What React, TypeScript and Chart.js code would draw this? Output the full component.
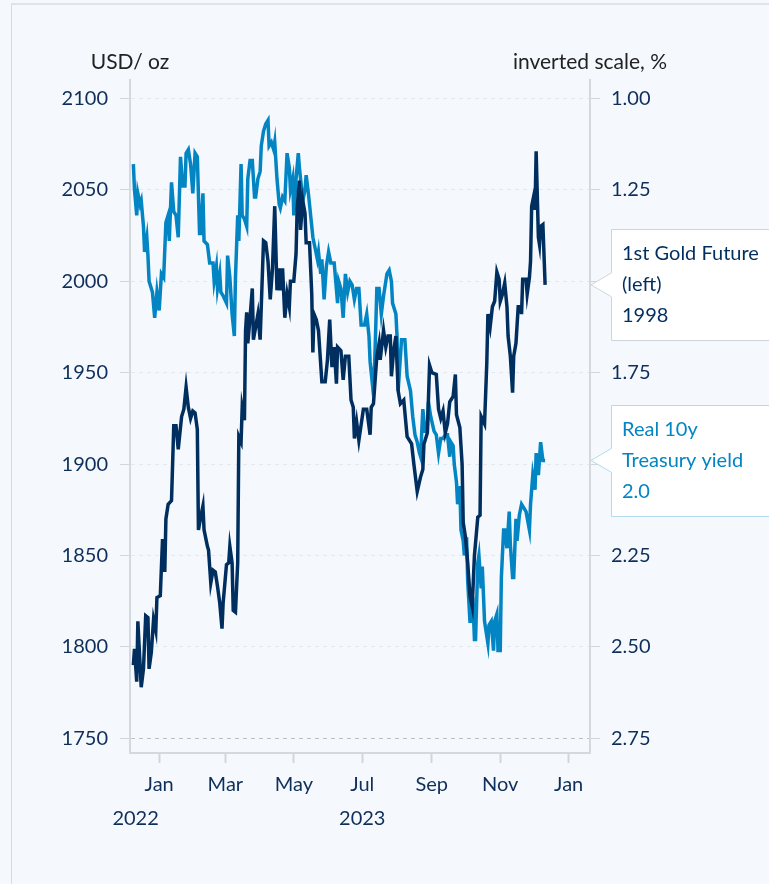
import React, { useEffect, useRef } from 'react';
import { Chart, registerables } from 'chart.js';

Chart.register(...registerables);

// ---------- data ----------
const goldDates = [
  '2022-12-09','2022-12-10','2022-12-12','2022-12-13','2022-12-16','2022-12-18','2022-12-20','2022-12-22','2022-12-23','2022-12-25',
  '2022-12-27','2022-12-29','2022-12-30','2023-01-02','2023-01-04','2023-01-06','2023-01-07','2023-01-09','2023-01-12','2023-01-14',
  '2023-01-16','2023-01-18','2023-01-21','2023-01-23','2023-01-25','2023-01-27','2023-01-29','2023-01-31','2023-02-02','2023-02-04',
  '2023-02-05','2023-02-07','2023-02-09','2023-02-10','2023-02-13','2023-02-14','2023-02-16','2023-02-18','2023-02-20','2023-02-22',
  '2023-02-24','2023-02-26','2023-02-27','2023-03-02','2023-03-04','2023-03-05','2023-03-07','2023-03-08','2023-03-10','2023-03-12',
  '2023-03-13','2023-03-15','2023-03-16','2023-03-18','2023-03-19','2023-03-20','2023-03-21','2023-03-23','2023-03-25','2023-03-26',
  '2023-03-30','2023-04-01','2023-04-04','2023-04-06','2023-04-08','2023-04-10','2023-04-12','2023-04-14','2023-04-16','2023-04-18',
  '2023-04-19','2023-04-21','2023-04-23','2023-04-25','2023-04-27','2023-04-28','2023-05-01','2023-05-03','2023-05-04','2023-05-06',
  '2023-05-07','2023-05-09','2023-05-11','2023-05-12','2023-05-15','2023-05-17','2023-05-18','2023-05-19','2023-05-21','2023-05-23',
  '2023-05-26','2023-05-29','2023-05-31','2023-06-02','2023-06-04','2023-06-06','2023-06-08','2023-06-09','2023-06-12','2023-06-14',
  '2023-06-16','2023-06-19','2023-06-21','2023-06-23','2023-06-24','2023-06-26','2023-06-28','2023-07-02','2023-07-05','2023-07-08',
  '2023-07-09','2023-07-11','2023-07-14','2023-07-16','2023-07-17','2023-07-20','2023-07-22','2023-07-24','2023-07-26','2023-07-27',
  '2023-07-29','2023-07-31','2023-08-02','2023-08-04','2023-08-07','2023-08-10','2023-08-14','2023-08-16','2023-08-19','2023-08-22',
  '2023-08-24','2023-08-25','2023-08-28','2023-08-30','2023-09-01','2023-09-05','2023-09-07','2023-09-09','2023-09-11','2023-09-13',
  '2023-09-15','2023-09-17','2023-09-20','2023-09-22','2023-09-23','2023-09-26','2023-09-28','2023-09-29','2023-10-01','2023-10-03',
  '2023-10-05','2023-10-07','2023-10-09','2023-10-11','2023-10-12','2023-10-14','2023-10-15','2023-10-18','2023-10-20','2023-10-21',
  '2023-10-23','2023-10-25','2023-10-27','2023-10-29','2023-10-31','2023-11-01','2023-11-03','2023-11-05','2023-11-07','2023-11-08',
  '2023-11-10','2023-11-12','2023-11-13','2023-11-15','2023-11-17','2023-11-19','2023-11-20','2023-11-21','2023-11-24','2023-11-25',
  '2023-11-27','2023-11-28','2023-11-29','2023-12-01','2023-12-02','2023-12-03','2023-12-05','2023-12-06','2023-12-07','2023-12-09',
  '2023-12-11'
];
const goldValues = [
  1790,1799,1781,1814,1778,1788,1817,1816,1788,1797,
  1815,1809,1827,1828,1859,1841,1870,1878,1880,1921,
  1921,1908,1926,1930,1942,1931,1925,1929,1928,1919,
  1864,1871,1877,1864,1855,1853,1835,1842,1841,1833,
  1824,1810,1824,1845,1846,1855,1846,1820,1819,1846,
  1915,1912,1931,1924,1973,1983,1966,1980,1996,1968,
  1982,1968,2022,2021,2011,1990,2007,2041,1995,2007,
  1995,2007,1980,1993,1986,2000,2000,2015,2040,2055,
  2028,2044,2037,2021,2021,1993,1961,1982,1979,1973,
  1945,1945,1957,1979,1953,1964,1944,1964,1962,1946,
  1959,1959,1935,1931,1914,1923,1913,1930,1930,1916,
  1931,1933,1959,1966,1957,1973,1964,1970,1970,1948,
  1962,1970,1940,1933,1935,1915,1911,1900,1885,1893,
  1897,1911,1917,1954,1950,1949,1930,1925,1929,1917,
  1922,1934,1937,1949,1927,1920,1900,1868,1860,1846,
  1828,1822,1850,1864,1871,1872,1926,1922,1955,1982,
  1975,1986,1989,2005,2001,1989,1993,1999,1986,1970,
  1959,1939,1959,1966,1986,1986,1982,2001,2001,1993,
  2002,2011,2041,2047,2039,2071,2024,2020,2030,2031,
  1998
];

const yieldDates = [
  '2022-12-09','2022-12-10','2022-12-12','2022-12-13','2022-12-15','2022-12-16','2022-12-18','2022-12-19','2022-12-21','2022-12-22',
  '2022-12-23','2022-12-25','2022-12-26','2022-12-28','2022-12-30','2023-01-01','2023-01-03','2023-01-05','2023-01-07','2023-01-09',
  '2023-01-10','2023-01-12','2023-01-14','2023-01-16','2023-01-18','2023-01-20','2023-01-22','2023-01-24','2023-01-25','2023-01-27',
  '2023-01-29','2023-01-31','2023-02-02','2023-02-04','2023-02-06','2023-02-07','2023-02-09','2023-02-10','2023-02-13','2023-02-15',
  '2023-02-18','2023-02-19','2023-02-21','2023-02-22','2023-02-24','2023-02-25','2023-02-27','2023-03-02','2023-03-03','2023-03-05',
  '2023-03-07','2023-03-09','2023-03-10','2023-03-12','2023-03-13','2023-03-15','2023-03-16','2023-03-18','2023-03-20','2023-03-21',
  '2023-03-23','2023-03-25','2023-03-27','2023-03-28','2023-03-30','2023-04-01','2023-04-02','2023-04-04','2023-04-06','2023-04-08',
  '2023-04-09','2023-04-11','2023-04-13','2023-04-14','2023-04-16','2023-04-18','2023-04-19','2023-04-21','2023-04-23','2023-04-25',
  '2023-04-27','2023-04-28','2023-04-30','2023-05-01','2023-05-03','2023-05-05','2023-05-06','2023-05-09','2023-05-11','2023-05-12',
  '2023-05-14','2023-05-16','2023-05-18','2023-05-20','2023-05-22','2023-05-23','2023-05-25','2023-05-26','2023-05-28','2023-05-30',
  '2023-06-01','2023-06-03','2023-06-06','2023-06-09','2023-06-10','2023-06-12','2023-06-14','2023-06-16','2023-06-18','2023-06-20',
  '2023-06-22','2023-06-24','2023-06-26','2023-06-28','2023-06-30','2023-07-03','2023-07-05','2023-07-07','2023-07-08','2023-07-10',
  '2023-07-12','2023-07-13','2023-07-14','2023-07-16','2023-07-18','2023-07-20','2023-07-21','2023-07-23','2023-07-25','2023-07-27',
  '2023-07-28','2023-07-31','2023-08-01','2023-08-02','2023-08-05','2023-08-08','2023-08-10','2023-08-13','2023-08-15','2023-08-17',
  '2023-08-19','2023-08-21','2023-08-22','2023-08-24','2023-08-26','2023-08-28','2023-08-29','2023-08-31','2023-09-03','2023-09-05',
  '2023-09-07','2023-09-09','2023-09-11','2023-09-13','2023-09-15','2023-09-17','2023-09-18','2023-09-20','2023-09-21','2023-09-23',
  '2023-09-24','2023-09-26','2023-09-27','2023-09-29','2023-09-30','2023-10-02','2023-10-03','2023-10-05','2023-10-06','2023-10-08',
  '2023-10-09','2023-10-10','2023-10-12','2023-10-13','2023-10-15','2023-10-16','2023-10-18','2023-10-21','2023-10-22','2023-10-24',
  '2023-10-26','2023-10-27','2023-10-29','2023-10-30','2023-11-01','2023-11-02','2023-11-04','2023-11-05','2023-11-07','2023-11-09',
  '2023-11-10','2023-11-12','2023-11-13','2023-11-15','2023-11-16','2023-11-18','2023-11-20','2023-11-22','2023-11-24','2023-11-27',
  '2023-11-28','2023-11-30','2023-12-02','2023-12-03','2023-12-05','2023-12-07','2023-12-09','2023-12-11'
];
const yieldValues = [
  1.18,1.25,1.32,1.26,1.29,1.28,1.35,1.42,1.38,1.43,
  1.50,1.52,1.53,1.60,1.53,1.58,1.48,1.49,1.34,1.32,
  1.39,1.23,1.31,1.32,1.38,1.16,1.24,1.24,1.15,1.14,
  1.18,1.26,1.15,1.16,1.37,1.37,1.26,1.39,1.40,1.45,
  1.45,1.50,1.46,1.52,1.48,1.53,1.54,1.56,1.43,1.49,
  1.59,1.65,1.49,1.32,1.39,1.18,1.32,1.33,1.35,1.22,
  1.17,1.17,1.27,1.27,1.22,1.20,1.13,1.09,1.07,1.06,
  1.13,1.12,1.14,1.12,1.22,1.29,1.30,1.27,1.28,1.15,
  1.19,1.25,1.22,1.32,1.22,1.15,1.19,1.28,1.25,1.21,
  1.26,1.32,1.38,1.41,1.44,1.42,1.48,1.44,1.55,1.46,
  1.42,1.45,1.45,1.56,1.50,1.52,1.60,1.48,1.53,1.50,
  1.51,1.55,1.52,1.52,1.62,1.62,1.59,1.65,1.72,1.78,
  1.73,1.63,1.52,1.52,1.59,1.54,1.52,1.48,1.47,1.50,
  1.56,1.59,1.65,1.80,1.66,1.66,1.76,1.80,1.87,1.92,
  1.94,1.97,1.98,1.85,1.91,1.91,1.83,1.87,1.91,1.92,
  1.97,1.93,1.93,1.92,1.92,1.98,1.94,1.95,2.00,2.05,
  2.11,2.06,2.18,2.21,2.25,2.20,2.32,2.43,2.43,2.40,
  2.48,2.48,2.27,2.25,2.34,2.28,2.43,2.49,2.44,2.43,
  2.51,2.43,2.41,2.51,2.51,2.31,2.18,2.18,2.23,2.13,
  2.22,2.31,2.31,2.15,2.21,2.14,2.11,2.12,2.13,2.18,
  2.11,2.03,2.07,1.97,2.03,1.94,1.99,1.99
];

const leftTicks = [1750, 1800, 1850, 1900, 1950, 2000, 2050, 2100];
const rightTicks = [1.0, 1.25, 1.5, 1.75, 2.0, 2.25, 2.5, 2.75];
const monthTickDates = ['2023-01-01','2023-03-01','2023-05-01','2023-07-01','2023-09-01','2023-11-01','2024-01-01'];
const monthTickLabels = ['Jan','Mar','May','Jul','Sep','Nov','Jan'];
const yearLabels = ['2022', '2023'];
const yearLabelDates = ['2022-12-11', '2023-07-01'];

const leftTitle = 'USD/ oz';
const rightTitle = 'inverted scale, %';
const goldLabel = ['1st Gold Future', '(left)'];
const yieldLabel = ['Real 10y', 'Treasury yield'];

// ---------- helpers ----------
const BASE = Date.UTC(2023, 0, 1);
const toDay = (s: string) => {
  const [y, m, d] = s.split('-').map(Number);
  return (Date.UTC(y, m - 1, d) - BASE) / 86400000;
};

const NAVY = '#002f5f';
const BLUE = '#0385c3';
const TICK = '#0f2f5a';
const FONT = 'Lato, "Noto Sans", sans-serif';
const FS = 20;

export default function App() {
  const ref = useRef<HTMLCanvasElement | null>(null);

  useEffect(() => {
    if (!ref.current) return;

    const overlay = {
      id: 'overlay',
      afterDraw(chart: any) {
        const { ctx, scales } = chart;
        const xs = scales.x, yl = scales.y, yr = scales.y1;
        ctx.save();
        ctx.textBaseline = 'middle';
        // axis titles
        ctx.font = `21px ${FONT}`;
        ctx.fillStyle = '#222222';
        ctx.textAlign = 'center';
        ctx.fillText(leftTitle, yl.right, 62);
        ctx.fillText(rightTitle, yr.left, 62);
        // year labels
        ctx.font = `${FS}px ${FONT}`;
        ctx.fillStyle = TICK;
        yearLabels.forEach((t, i) => {
          ctx.fillText(t, xs.getPixelForValue(toDay(yearLabelDates[i])), 819);
        });
        // end-value boxes
        const drawBox = (cy: number, lines: string[], color: string, border: string) => {
          const bx = yr.left + 21, tip = yr.left + 1;
          const h = 111, top = Math.round(cy - h / 2) + 0.5, bot = top + h;
          ctx.beginPath();
          ctx.moveTo(bx + 0.5, top);
          ctx.lineTo(820, top);
          ctx.lineTo(820, bot);
          ctx.lineTo(bx + 0.5, bot);
          ctx.lineTo(bx + 0.5, cy + 12);
          ctx.lineTo(tip, cy);
          ctx.lineTo(bx + 0.5, cy - 12);
          ctx.closePath();
          ctx.fillStyle = '#ffffff';
          ctx.fill();
          ctx.strokeStyle = border;
          ctx.lineWidth = 1;
          ctx.stroke();
          ctx.fillStyle = color;
          ctx.textAlign = 'left';
          lines.forEach((l, i) => ctx.fillText(l, bx + 11, cy + (i - 1) * 31));
        };
        const gLast = goldValues[goldValues.length - 1];
        const yLast = yieldValues[yieldValues.length - 1];
        drawBox(yl.getPixelForValue(gLast), [...goldLabel, String(Math.round(gLast))], NAVY, '#cdd4db');
        drawBox(yr.getPixelForValue(yLast), [...yieldLabel, yLast.toFixed(1)], BLUE, '#b2dbef');
        ctx.restore();
      },
    };

    const tickFont = { family: FONT, size: FS };

    const chart = new Chart(ref.current, {
      type: 'line',
      data: {
        datasets: [
          {
            label: 'Gold',
            data: goldDates.map((d, i) => ({ x: toDay(d), y: goldValues[i] })),
            borderColor: NAVY,
            borderWidth: 3.5,
            pointRadius: 0,
            tension: 0,
            yAxisID: 'y',
          },
          {
            label: 'Real 10y',
            data: yieldDates.map((d, i) => ({ x: toDay(d), y: yieldValues[i] })),
            borderColor: BLUE,
            borderWidth: 3.5,
            pointRadius: 0,
            tension: 0,
            yAxisID: 'y1',
          },
        ],
      },
      options: {
        responsive: false,
        animation: false,
        devicePixelRatio: 1,
        layout: { padding: { top: 80, left: 0, right: 0, bottom: 0 } },
        plugins: { legend: { display: false }, tooltip: { enabled: false } },
        scales: {
          x: {
            type: 'linear',
            min: -26,
            max: 384,
            afterBuildTicks: (s: any) => {
              s.ticks = monthTickDates.map((d) => ({ value: toDay(d) }));
            },
            afterFit: (s: any) => { s.height = 131; },
            grid: { drawOnChartArea: false, drawTicks: true, tickLength: 10, tickColor: '#cfd6dd', tickWidth: 2 },
            border: { color: '#d3d9df', width: 2 },
            ticks: {
              autoSkip: false,
              maxRotation: 0,
              padding: 10,
              color: TICK,
              font: tickFont,
              callback: (_v: any, i: number) => monthTickLabels[i],
            },
          },
          y: {
            position: 'left',
            min: 1742,
            max: 2110,
            afterBuildTicks: (s: any) => {
              s.ticks = leftTicks.map((v) => ({ value: v }));
            },
            afterFit: (s: any) => { s.width = 130; },
            grid: {
              color: (c: any) => (c.tick && c.tick.value === leftTicks[0] ? '#b9c1c9' : '#e4e9ee'),
              lineWidth: 1,
              drawTicks: true,
              tickLength: 10,
              tickColor: '#cfd6dd',
              tickWidth: 1,
            },
            border: { color: '#d3d9df', width: 2, dash: [4, 4] },
            ticks: { padding: 12, color: TICK, font: tickFont, callback: (v: any) => String(v) },
          },
          y1: {
            position: 'right',
            reverse: true,
            min: 0.95,
            max: 2.79,
            afterBuildTicks: (s: any) => {
              s.ticks = rightTicks.map((v) => ({ value: v }));
            },
            afterFit: (s: any) => { s.width = 179; },
            grid: { drawOnChartArea: false, drawTicks: true, tickLength: 10, tickColor: '#cfd6dd', tickWidth: 1 },
            border: { color: '#d3d9df', width: 2 },
            ticks: { padding: 11, color: TICK, font: tickFont, callback: (v: any) => Number(v).toFixed(2) },
          },
        },
      },
      plugins: [overlay],
    } as any);

    return () => chart.destroy();
  }, []);

  return (
    <div style={{ position: 'absolute', left: 0, top: 0, width: 769, height: 884, background: '#f5f9fd', overflow: 'hidden' }}>
      <div
        style={{
          position: 'absolute',
          left: 11,
          top: 3,
          right: -10,
          bottom: -10,
          borderLeft: '1px solid #d6dce2',
          borderTop: '2px solid #dfe4e9',
        }}
      />
      <canvas ref={ref} width={769} height={884} style={{ position: 'absolute', left: 0, top: 0, display: 'block' }} />
    </div>
  );
}
